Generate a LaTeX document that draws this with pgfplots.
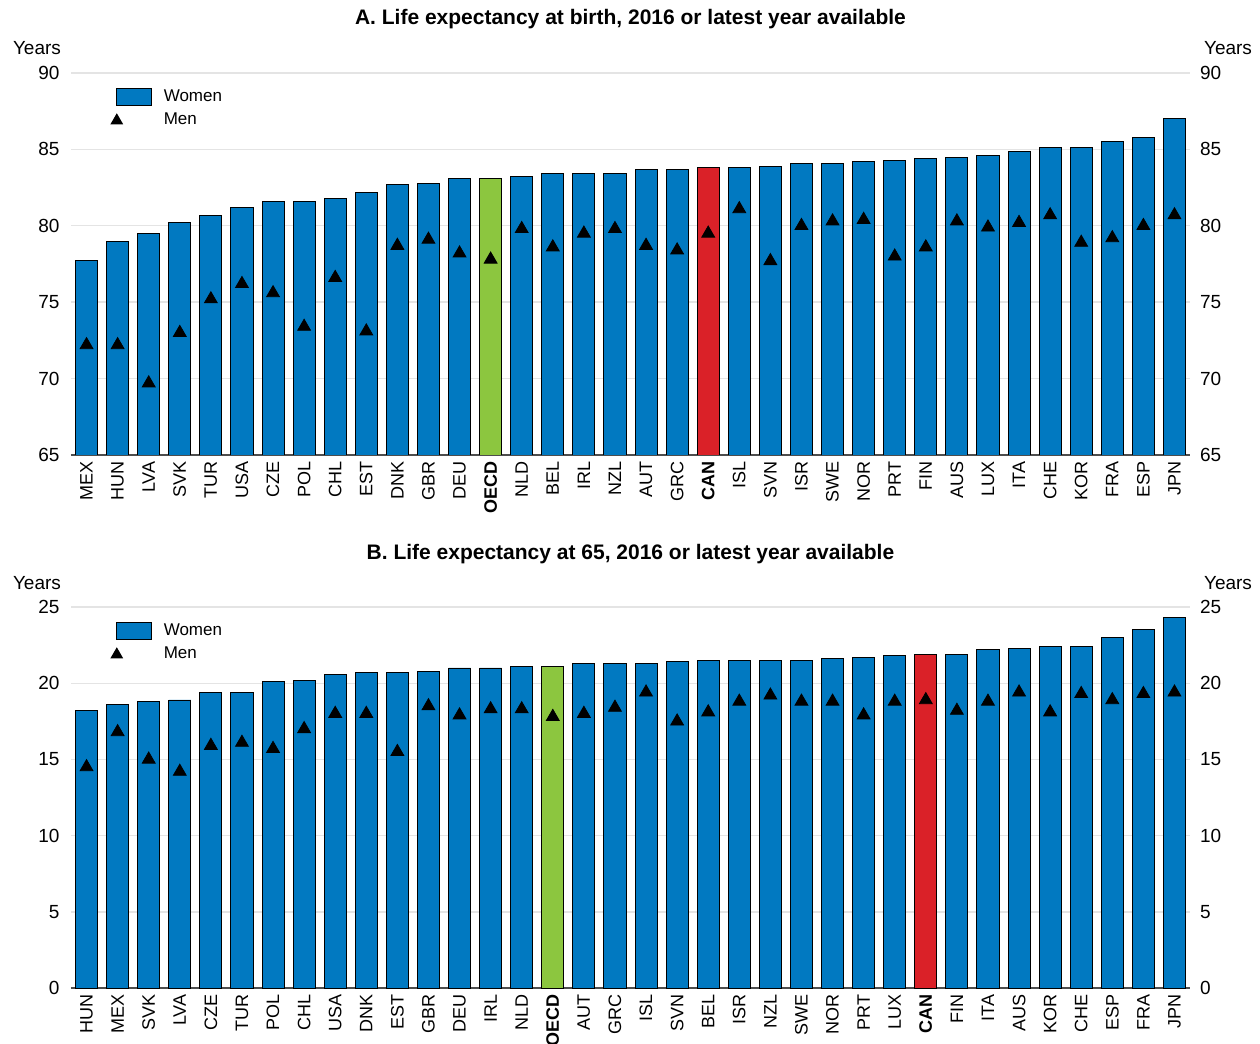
\documentclass[border=0pt]{standalone}
\usepackage{pgfplots}
\pgfplotsset{compat=1.18}
\usepackage{fontspec}
\setmainfont{Liberation Sans}
\definecolor{oblue}{HTML}{0179C1}
\definecolor{ogreen}{HTML}{8CC63F}
\definecolor{ored}{HTML}{DA2128}
\definecolor{gridgray}{HTML}{E4E4E4}
\definecolor{axisgray}{HTML}{4D4D4D}

\pgfplotsset{
  panel/.style={
    scale only axis, width=559.5pt,
    xmin=-0.5, xmax=35.5,
    xtick={0,...,35},
    axis x line*=bottom, axis y line*=left,
    x axis line style={draw=axisgray, line width=0.7pt, -},
    y axis line style={draw=none},
    major tick length=0pt,
    ymajorgrids, grid style={gridgray, line width=0.7pt},
    /pgf/number format/assume math mode=true,
    x tick label style={rotate=90, anchor=east, font=\fontsize{9}{10}\selectfont, inner sep=3pt},
    y tick label style={font=\fontsize{9.5}{10}\selectfont, xshift=-2.2pt},
    title style={at={(0.5,1)}, anchor=base, yshift=18pt, font=\fontsize{10.5}{12}\selectfont\bfseries},
    legend style={at={(0,1)}, anchor=north west, xshift=16.5pt, yshift=-4pt, draw=none, fill=none,
      font=\fontsize{8.5}{10}\selectfont, row sep=0.6pt, cells={anchor=west}},
  },
  rightpanel/.style={
    scale only axis, width=559.5pt,
    xmin=-0.5, xmax=35.5,
    axis x line=none, axis y line*=right,
    y axis line style={draw=none},
    major tick length=0pt,
    /pgf/number format/assume math mode=true,
    y tick label style={font=\fontsize{9.5}{10}\selectfont, anchor=west, xshift=1.5pt},
  },
  womenbar/.style={ybar, bar width=0.71, bar shift=0pt, draw=black, line width=0.45pt},
  men/.style={only marks, mark=triangle*, mark size=3.7pt, black},
  barlegend/.style={legend image code/.code={\path[draw=none, fill=none] (0pt,0pt) -- (21.5pt,0pt); \draw[fill=oblue, draw=black, line width=0.45pt] (0pt,-4.2pt) rectangle (17.5pt,4.2pt);}},
  menlegend/.style={legend image code/.code={\path[draw=none, fill=none] (0pt,0pt) -- (21.5pt,0pt); \fill[black, draw=none] (0pt,0pt) ++(90:3.7pt) -- ++(240:6.4pt) -- ++(0:6.4pt) -- cycle;}},
}

\begin{document}
\begin{tikzpicture}
% ---------- Panel A ----------
\begin{axis}[panel, name=top, at={(0,266.5pt)}, anchor=south west,
  height=191pt, ymin=65, ymax=90, ytick={65,70,...,90},
  title={A. Life expectancy at birth, 2016 or latest year available},
  xticklabels={MEX,HUN,LVA,SVK,TUR,USA,CZE,POL,CHL,EST,DNK,GBR,DEU,\textbf{OECD},NLD,BEL,IRL,NZL,AUT,GRC,\textbf{CAN},ISL,SVN,ISR,SWE,NOR,PRT,FIN,AUS,LUX,ITA,CHE,KOR,FRA,ESP,JPN}]
\addplot[womenbar, fill=oblue, barlegend] coordinates {
(0,77.7) (1,79.0) (2,79.5) (3,80.2) (4,80.7) (5,81.2) (6,81.6) (7,81.6) (8,81.8) (9,82.2)
(10,82.7) (11,82.8) (12,83.1) (13,83.1) (14,83.2) (15,83.4) (16,83.4) (17,83.4) (18,83.7) (19,83.7)
(20,83.8) (21,83.8) (22,83.9) (23,84.1) (24,84.1) (25,84.2) (26,84.3) (27,84.4) (28,84.5) (29,84.6)
(30,84.85) (31,85.1) (32,85.15) (33,85.5) (34,85.8) (35,87.05)};
\addlegendentry{Women}
\addplot[womenbar, fill=ogreen, forget plot] coordinates {(13,83.1)};
\addplot[womenbar, fill=ored, forget plot] coordinates {(20,83.8)};
\addplot[men, menlegend] coordinates {
(0,72.2) (1,72.2) (2,69.7) (3,73.0) (4,75.2) (5,76.2) (6,75.6) (7,73.4) (8,76.6) (9,73.1)
(10,78.7) (11,79.1) (12,78.2) (13,77.8) (14,79.8) (15,78.6) (16,79.5) (17,79.8) (18,78.7) (19,78.4)
(20,79.5) (21,81.1) (22,77.7) (23,80.0) (24,80.3) (25,80.4) (26,78.0) (27,78.6) (28,80.3) (29,79.9)
(30,80.2) (31,80.7) (32,78.9) (33,79.2) (34,80.0) (35,80.7)};
\addlegendentry{Men}
\end{axis}
\begin{axis}[rightpanel, at={(0,266.5pt)}, anchor=south west,
  height=191pt, ymin=65, ymax=90, ytick={65,70,...,90}]
\end{axis}
\node[anchor=base east, font=\fontsize{9.5}{10}\selectfont] at ([xshift=-1.5pt, yshift=9pt]top.north west) {Years};
\node[anchor=base west, font=\fontsize{9.5}{10}\selectfont] at ([xshift=3.5pt, yshift=9pt]top.north east) {Years};

% ---------- Panel B ----------
\begin{axis}[panel, name=bot, at={(0,0)}, anchor=south west,
  height=190.5pt, ymin=0, ymax=25, ytick={0,5,...,25},
  title={B. Life expectancy at 65, 2016 or latest year available},
  xticklabels={HUN,MEX,SVK,LVA,CZE,TUR,POL,CHL,USA,DNK,EST,GBR,DEU,IRL,NLD,\textbf{OECD},AUT,GRC,ISL,SVN,BEL,ISR,NZL,SWE,NOR,PRT,LUX,\textbf{CAN},FIN,ITA,AUS,KOR,CHE,ESP,FRA,JPN}]
\addplot[womenbar, fill=oblue, barlegend] coordinates {
(0,18.2) (1,18.6) (2,18.8) (3,18.9) (4,19.4) (5,19.4) (6,20.1) (7,20.2) (8,20.6) (9,20.7)
(10,20.7) (11,20.8) (12,21.0) (13,21.0) (14,21.1) (15,21.1) (16,21.3) (17,21.3) (18,21.3) (19,21.4)
(20,21.5) (21,21.5) (22,21.5) (23,21.5) (24,21.6) (25,21.7) (26,21.8) (27,21.9) (28,21.9) (29,22.2)
(30,22.3) (31,22.4) (32,22.4) (33,23.0) (34,23.5) (35,24.3)};
\addlegendentry{Women}
\addplot[womenbar, fill=ogreen, forget plot] coordinates {(15,21.1)};
\addplot[womenbar, fill=ored, forget plot] coordinates {(27,21.9)};
\addplot[men, menlegend] coordinates {
(0,14.5) (1,16.8) (2,15.0) (3,14.2) (4,15.9) (5,16.1) (6,15.7) (7,17.0) (8,18.0) (9,18.0)
(10,15.5) (11,18.5) (12,17.9) (13,18.3) (14,18.3) (15,17.8) (16,18.0) (17,18.4) (18,19.4) (19,17.5)
(20,18.1) (21,18.8) (22,19.2) (23,18.8) (24,18.8) (25,17.9) (26,18.8) (27,18.9) (28,18.2) (29,18.8)
(30,19.4) (31,18.1) (32,19.3) (33,18.9) (34,19.3) (35,19.4)};
\addlegendentry{Men}
\end{axis}
\begin{axis}[rightpanel, at={(0,0)}, anchor=south west,
  height=190.5pt, ymin=0, ymax=25, ytick={0,5,...,25}]
\end{axis}
\node[anchor=base east, font=\fontsize{9.5}{10}\selectfont] at ([xshift=-1.5pt, yshift=9pt]bot.north west) {Years};
\node[anchor=base west, font=\fontsize{9.5}{10}\selectfont] at ([xshift=3.5pt, yshift=9pt]bot.north east) {Years};

\pgfresetboundingbox
\path ([xshift=-35.5pt, yshift=-27.5pt]bot.south west) rectangle ([xshift=35pt, yshift=36.5pt]top.north east);
\end{tikzpicture}
\end{document}
